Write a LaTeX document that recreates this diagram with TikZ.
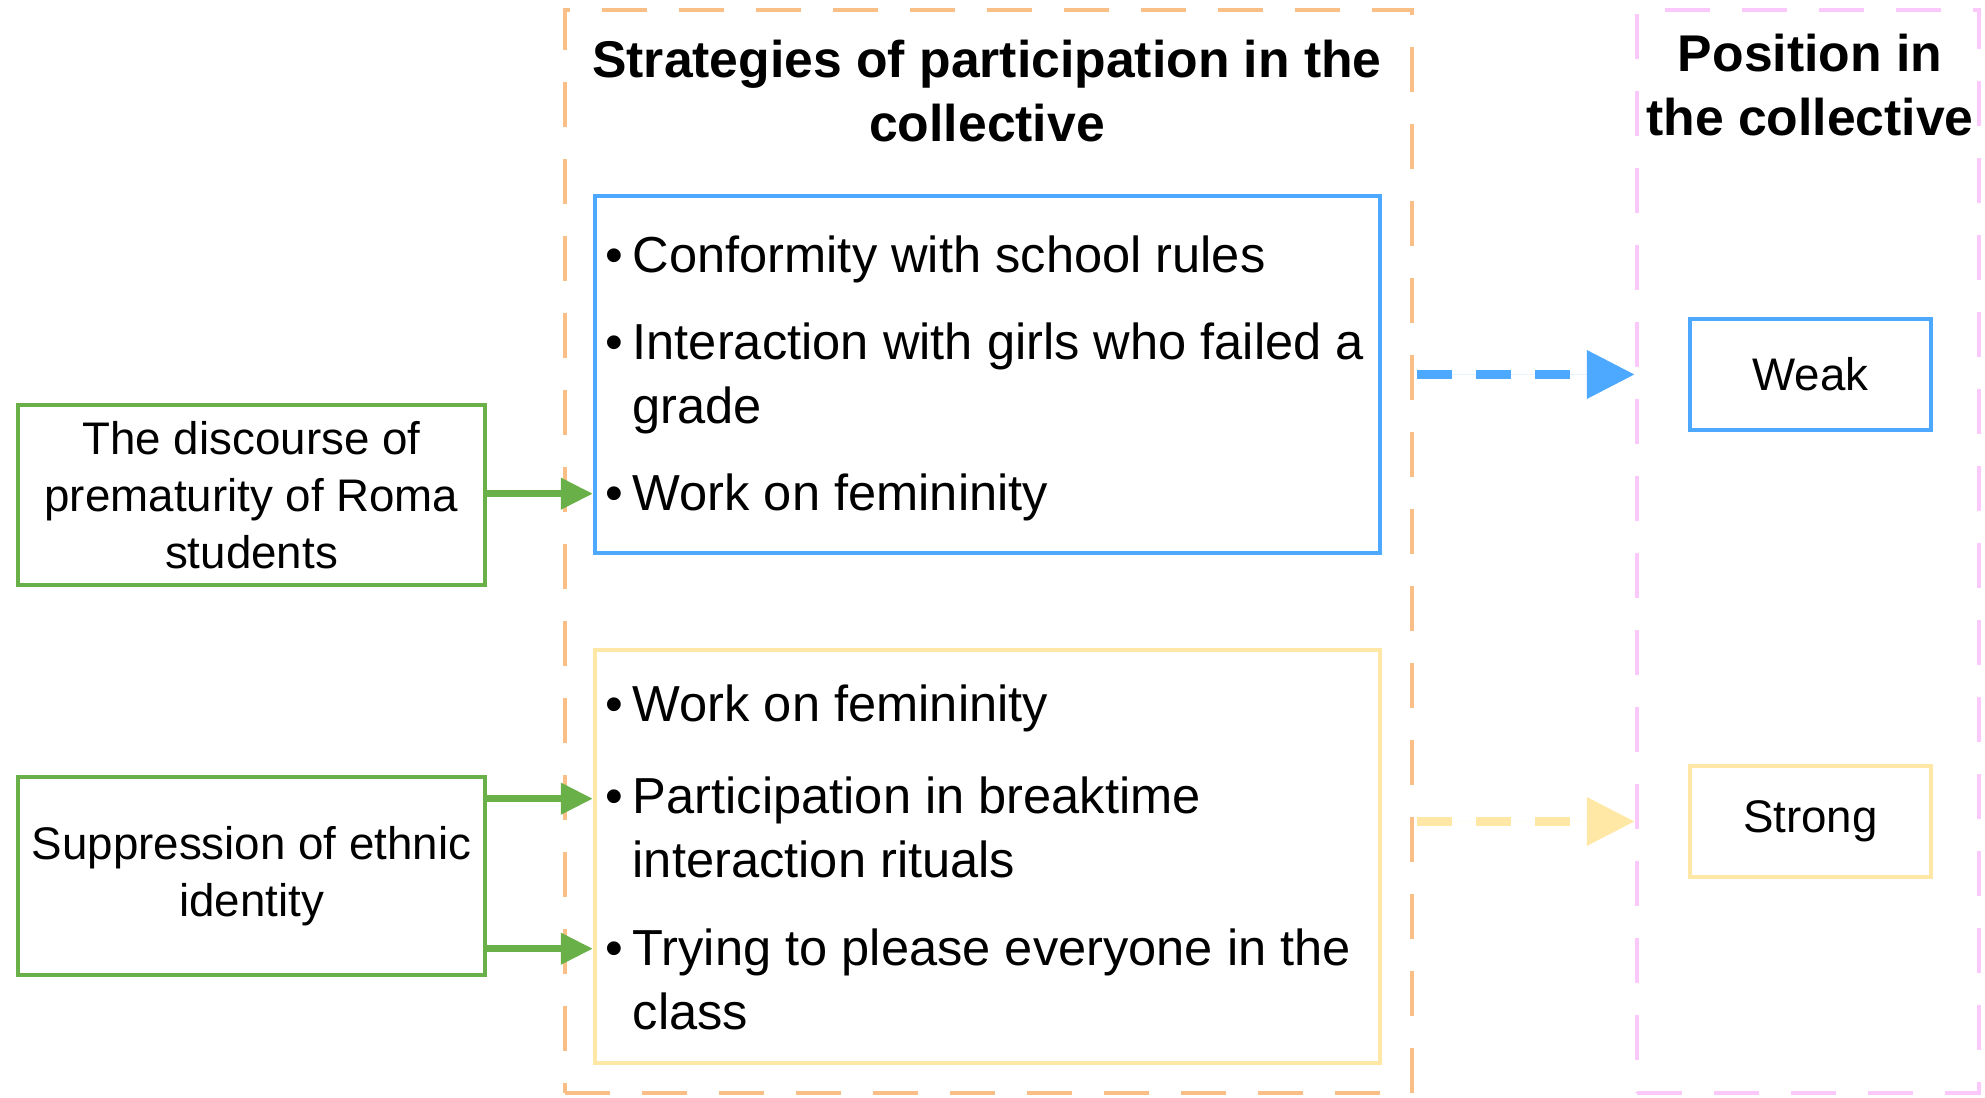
\documentclass[tikz,border=0pt]{standalone}
\usepackage{fontspec}
\setmainfont{Liberation Sans}
\usepackage{tikz}
\usetikzlibrary{arrows.meta, positioning}
\definecolor{linegreen}{RGB}{106,176,72}
\definecolor{lineblue}{RGB}{77,168,255}
\definecolor{lineyellow}{RGB}{255,232,166}
\definecolor{lineorange}{RGB}{250,190,135}
\definecolor{linepink}{RGB}{250,200,250}
\newcommand{\bitem}[1]{\makebox[0.27cm][l]{\textbullet}\begin{tabular}[t]{@{}l@{}}#1\end{tabular}}
\tikzset{
    block_green/.style={rectangle, draw=linegreen, line width=1pt, minimum width=4.67cm, inner sep=0pt, align=center, font=\fontsize{13}{16.2}\selectfont},
    block_blue/.style={rectangle, draw=lineblue, line width=1.2pt, minimum width=7.85cm, inner sep=0pt},
    block_yellow/.style={rectangle, draw=lineyellow, line width=1.2pt, minimum width=7.85cm, inner sep=0pt},
    frame_orange/.style={rectangle, draw=lineorange, line width=1.2pt, dash pattern=on 0.45cm off 0.32cm, minimum width=8.47cm, minimum height=10.83cm, inner sep=0pt},
    frame_pink/.style={rectangle, draw=linepink, line width=1.2pt, dash pattern=on 0.45cm off 0.32cm, minimum width=3.42cm, minimum height=10.83cm, inner sep=0pt},
    heading/.style={align=center, font=\bfseries\fontsize{14.7}{18}\selectfont},
    entry/.style={anchor=base west, inner sep=0pt, font=\fontsize{14.4}{18}\selectfont},
    arrow_green/.style={-{Triangle[length=0.32cm, width=0.30cm]}, draw=linegreen, fill=linegreen, line width=2pt},
    arrow_dash/.style={-{Triangle[length=0.48cm, width=0.46cm]}, line width=2.8pt, dash pattern=on 0.35cm off 0.24cm}
}

\begin{document}
\begin{tikzpicture}
    \useasboundingbox (0,0) rectangle (19.85,10.98);
    \tikzstyle{level}=[rectangle, line width=1.2pt, minimum width=2.41cm, minimum height=1.11cm, font=\fontsize{13}{16}\selectfont]

    % Frames
    \node (fr1) [frame_orange] at (9.885,5.465) {};
    \node (fr2) [frame_pink] at (18.08,5.465) {};
    \node (h1) [heading] at (9.87,10.07) {Strategies of participation in the\\collective};
    \node (h2) [heading] at (18.10,10.13) {Position in\\the collective};

    % Strategies
    \node (s1) [block_blue, minimum height=3.57cm] at (9.875,7.235) {};
    \node (s2) [block_yellow, minimum height=4.13cm] at (9.875,2.415) {};

    \node (s1a) [entry] at (6.05,8.25) {\bitem{Conformity with school rules}};
    \node (s1b) [entry] at (6.05,7.38) {\bitem{Interaction with girls who failed a\\grade}};
    \node (s1c) [entry] at (6.05,5.87) {\bitem{Work on femininity}};

    \node (s2a) [entry] at (6.05,3.76) {\bitem{Work on femininity}};
    \node (s2b) [entry] at (6.05,2.84) {\bitem{Participation in breaktime\\interaction rituals}};
    \node (s2c) [entry] at (6.05,1.32) {\bitem{Trying to please everyone in the\\class}};

    % Causes
    \node (c1) [block_green, minimum height=1.80cm] at (2.515,6.03) {The discourse of\\prematurity of Roma\\students};
    \node (c2) [block_green, minimum height=1.98cm] at (2.515,2.22) {Suppression of ethnic\\identity};

    % Positions
    \node (pos1) [level, draw=lineblue] at (18.105,7.235) {Weak};
    \node (pos2) [level, draw=lineyellow] at (18.105,2.765) {Strong};

    % Arrows
    \draw [arrow_green] ([yshift=0.08cm]c1.east |- s1c.mid west) -- ([yshift=0.08cm]s1.west |- s1c.mid west);
    \draw [arrow_green] ([yshift=0.06cm]c2.east |- s2b.mid west) -- ([yshift=0.06cm]s2.west |- s2b.mid west);
    \draw [arrow_green] ([yshift=0.08cm]c2.east |- s2c.mid west) -- ([yshift=0.08cm]s2.west |- s2c.mid west);

    \draw [arrow_dash, draw=lineblue, fill=lineblue] ([xshift=0.03cm]fr1.east |- pos1) -- (fr2.west |- pos1);
    \draw [arrow_dash, draw=lineyellow, fill=lineyellow] ([xshift=0.03cm]fr1.east |- pos2) -- (fr2.west |- pos2);
\end{tikzpicture}
\end{document}
